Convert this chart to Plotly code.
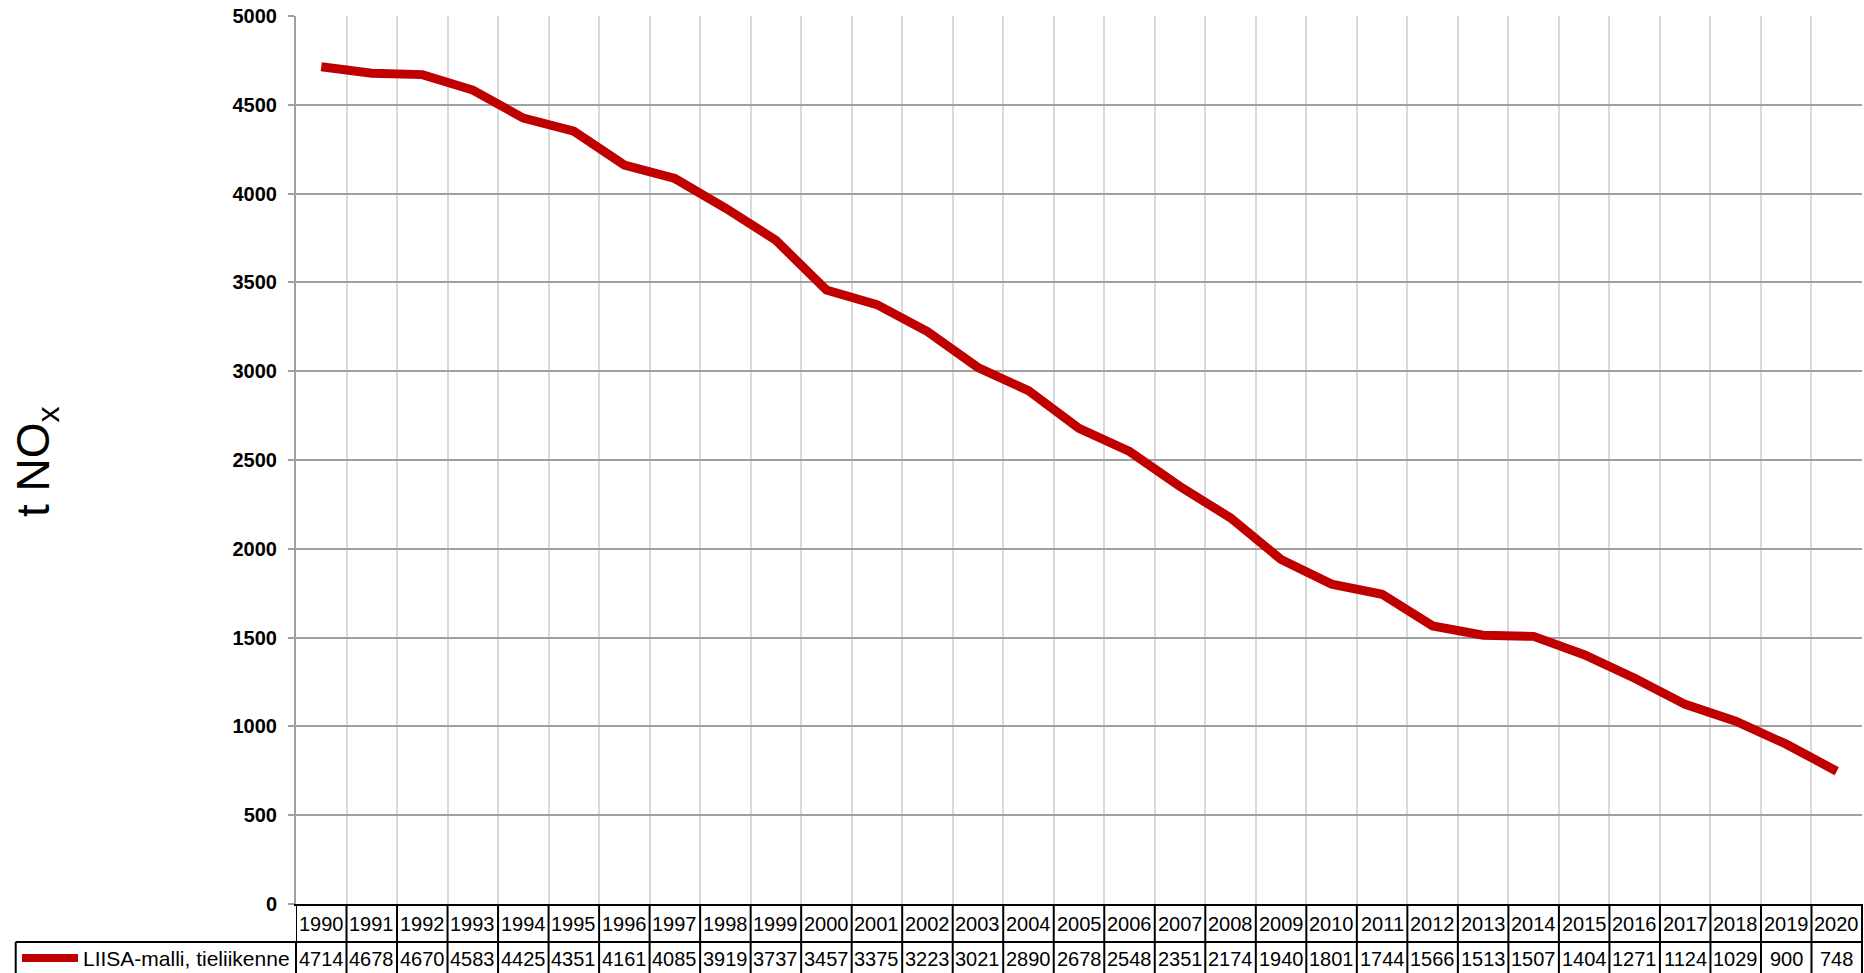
import plotly.graph_objects as go

years = [str(y) for y in range(1990, 2021)]
values = [4714, 4678, 4670, 4583, 4425, 4351, 4161, 4085, 3919, 3737, 3457,
          3375, 3223, 3021, 2890, 2678, 2548, 2351, 2174, 1940, 1801, 1744,
          1566, 1513, 1507, 1404, 1271, 1124, 1029, 900, 748]
series_name = "LIISA-malli, tieliikenne"
y_ticks = list(range(0, 5001, 500))

FONT = "Liberation Sans, Arial, sans-serif"
RED = "#C00000"
W, H = 1864, 973
ML, MR, MT, MB = 296, 2, 16, 69
PW = W - ML - MR
PH = H - MT - MB

def px_x(px):
    return (px - ML) / PW

def px_y(py):
    return (H - MB - py) / PH

idx = list(range(len(years)))

fig = go.Figure()
fig.add_trace(go.Scatter(
    x=idx, y=values, mode="lines",
    line=dict(color=RED, width=9),
    name=series_name, showlegend=False, hoverinfo="skip",
))

shapes = []
annotations = []

# table: vertical cell borders at category boundaries
for i in range(len(years) + 1):
    shapes.append(dict(type="line", xref="x", yref="paper",
                       x0=i - 0.5, x1=i - 0.5, y0=0, y1=px_y(H + 5),
                       line=dict(color="black", width=2), layer="above"))
# row divider across header + data
shapes.append(dict(type="line", xref="paper", yref="paper",
                   x0=px_x(15.7), x1=1.0, y0=px_y(942), y1=px_y(942),
                   line=dict(color="black", width=2)))
# header column left border
shapes.append(dict(type="line", xref="paper", yref="paper",
                   x0=px_x(15.7), x1=px_x(15.7), y0=px_y(942), y1=px_y(H + 5),
                   line=dict(color="black", width=2)))
# header column right border
shapes.append(dict(type="line", xref="paper", yref="paper",
                   x0=0, x1=0, y0=px_y(942), y1=px_y(H + 5),
                   line=dict(color="black", width=2)))
# right border of table
shapes.append(dict(type="line", xref="paper", yref="paper",
                   x0=1, x1=1, y0=0, y1=px_y(H + 5),
                   line=dict(color="black", width=2)))
# legend key line
shapes.append(dict(type="line", xref="paper", yref="paper",
                   x0=px_x(22), x1=px_x(78), y0=px_y(958), y1=px_y(958),
                   line=dict(color=RED, width=8)))

annotations.append(dict(xref="paper", yref="paper", x=px_x(81), y=px_y(958.5),
                        xanchor="left", yanchor="middle", showarrow=False,
                        text=series_name,
                        font=dict(family=FONT, size=21, color="black")))

for i, (yr, v) in enumerate(zip(years, values)):
    annotations.append(dict(xref="x", yref="paper", x=i, y=px_y(923.5),
                            xanchor="center", yanchor="middle", showarrow=False,
                            text=yr, font=dict(family=FONT, size=20, color="black")))
    annotations.append(dict(xref="x", yref="paper", x=i, y=px_y(959),
                            xanchor="center", yanchor="middle", showarrow=False,
                            text=str(v), font=dict(family=FONT, size=20, color="black")))

# y-axis title
annotations.append(dict(xref="paper", yref="paper", x=px_x(36), y=px_y(462),
                        xanchor="center", yanchor="middle", showarrow=False,
                        textangle=-90, text="t NO<sub>x</sub>",
                        font=dict(family=FONT, size=46, color="black")))

fig.update_layout(
    width=W, height=H,
    margin=dict(l=ML, r=MR, t=MT, b=MB, pad=0),
    paper_bgcolor="white", plot_bgcolor="white",
    font=dict(family=FONT, color="black"),
    shapes=shapes, annotations=annotations,
    showlegend=False,
    xaxis=dict(
        range=[-0.5, len(years) - 0.5],
        tickmode="array", tickvals=[i - 0.5 for i in range(len(years) + 1)],
        showticklabels=False, ticks="",
        showgrid=True, gridcolor="#D9D9D9", gridwidth=2,
        showline=True, linecolor="black", linewidth=2,
        zeroline=False, fixedrange=True,
    ),
    yaxis=dict(
        range=[0, 5000],
        tickmode="array", tickvals=y_ticks,
        ticktext=[str(t) for t in y_ticks],
        tickfont=dict(family=FONT, size=20, color="black", weight="bold"),
        ticks="outside", ticklen=6, tickcolor="#A0A0A0", tickwidth=1.5,
        ticklabelstandoff=7,
        showgrid=True, gridcolor="#A0A0A0", gridwidth=2,
        showline=True, linecolor="#A0A0A0", linewidth=2,
        zeroline=False, fixedrange=True,
    ),
)

fig.write_html(
    "out.html",
    config={"displayModeBar": False},
    post_script="document.body.style.margin='0';document.body.style.overflow='hidden';",
)
